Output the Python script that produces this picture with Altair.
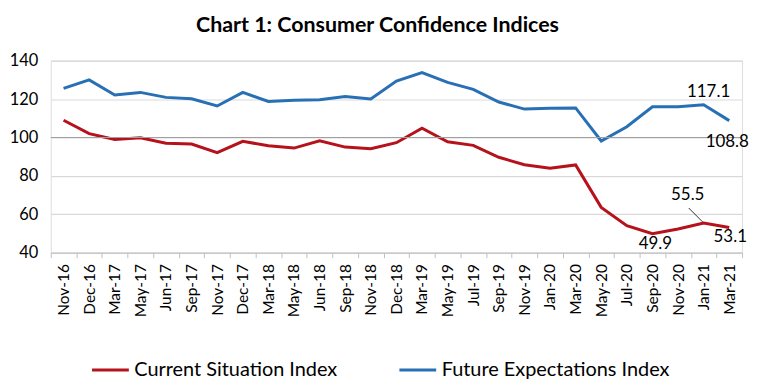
import altair as alt
import pandas as pd

months = ["Nov-16", "Dec-16", "Mar-17", "May-17", "Jun-17", "Sep-17", "Nov-17", "Dec-17",
          "Mar-18", "May-18", "Jun-18", "Sep-18", "Nov-18", "Dec-18", "Mar-19", "May-19",
          "Jul-19", "Sep-19", "Nov-19", "Jan-20", "Mar-20", "May-20", "Jul-20", "Sep-20",
          "Nov-20", "Jan-21", "Mar-21"]
csi = [109.0, 102.0, 99.0, 99.9, 97.0, 96.6, 92.1, 98.0, 95.7, 94.5, 98.3, 95.0, 94.2, 97.3,
       104.8, 97.8, 95.9, 89.7, 85.8, 84.0, 85.7, 63.6, 54.1, 49.9, 52.3, 55.5, 53.1]
fei = [125.6, 130.0, 122.1, 123.5, 120.9, 120.2, 116.4, 123.5, 118.8, 119.4, 119.7, 121.3,
       120.1, 129.4, 133.8, 128.7, 125.1, 118.5, 114.8, 115.2, 115.4, 98.2, 105.6, 116.0,
       116.0, 117.1, 108.8]
series_names = ["Current Situation Index", "Future Expectations Index"]
y_ticks = [40, 60, 80, 100, 120, 140]

df = pd.DataFrame({
    "month": months * 2,
    "series": [series_names[0]] * len(months) + [series_names[1]] * len(months),
    "value": csi + fei,
})

FONT = "Lato"
y_scale = alt.Scale(domain=[40, 140], nice=False, zero=False)
y_axis = alt.Axis(title=None, values=y_ticks, labelFontSize=16.5, labelFont=FONT,
                  labelColor="#000000", domain=False, ticks=False, labelPadding=13,
                  labelOverlap=False, labelBound=False, labelFlush=False,
                  grid=True, gridColor="#d9d9d9", gridWidth=1.2)
x_axis = alt.Axis(title=None, labelAngle=270, labelFontSize=15.5, labelFont=FONT,
                  labelColor="#000000", tickBand="extent", tickSize=5,
                  tickColor="#bfbfbf", domainColor="#bfbfbf", labelPadding=6,
                  grid=False, labelOverlap=False)
x_scale = alt.Scale(type="band", paddingInner=0, paddingOuter=0)

def X():
    return alt.X("month:N", sort=months, bandPosition=0.5, scale=x_scale, axis=x_axis)

def Y():
    return alt.Y("value:Q", scale=y_scale, axis=y_axis)

base = alt.Chart(df)

lines = base.mark_line(strokeWidth=3).encode(
    x=X(), y=Y(),
    color=alt.Color("series:N", sort=series_names,
                    scale=alt.Scale(domain=series_names, range=["#B5121B", "#2870B5"]),
                    legend=alt.Legend(title=None, orient="none", direction="horizontal",
                                      legendX=40, legendY=291, symbolType="stroke",
                                      symbolSize=1369, symbolStrokeWidth=3,
                                      labelFontSize=20, labelFont=FONT, labelColor="#000000",
                                      labelOffset=4, columnPadding=55, labelLimit=400)),
)

ref100 = alt.Chart(pd.DataFrame({"value": [100]})).mark_rule(
    color="#a0a0a0", strokeWidth=1.2).encode(y=Y())

def label(month, series, dx, dy):
    return base.transform_filter(
        (alt.datum.month == month) & (alt.datum.series == series)
    ).mark_text(dx=dx, dy=dy, fontSize=17, font=FONT, color="#000000").encode(
        x=X(), y=Y(), text=alt.Text("value:Q", format=".1f"))

labels = [
    label("Jan-21", series_names[1], 5, -13),
    label("Mar-21", series_names[1], -2, 22),
    label("Jan-21", series_names[0], -16, -28),
    label("Sep-20", series_names[0], 3, 10),
    label("Mar-21", series_names[0], 1, 10),
]

leader = base.transform_filter(
    (alt.datum.month == "Jan-21") & (alt.datum.series == series_names[0])
).mark_rule(color="#000000", strokeWidth=0.8, xOffset=-15, yOffset=-15,
            x2Offset=-1, y2Offset=-1).encode(
    x=X(), y=Y(), x2=alt.X2("month:N"), y2=alt.Y2("value:Q"))

chart = alt.layer(lines, ref100, leader, *labels).properties(
    width=695, height=193,
    title=alt.TitleParams("Chart 1: Consumer Confidence Indices", fontSize=21.5, font=FONT,
                          fontWeight="bold", color="#000000", anchor="middle", dx=-19,
                          offset=16),
    autosize=alt.AutoSizeParams(type="none"),
    padding={"left": 43, "top": 52, "right": 9, "bottom": 128},
).configure_view(stroke=None).configure(background="#ffffff")

chart.save("out.html", embed_options={"renderer": "svg", "actions": False})
